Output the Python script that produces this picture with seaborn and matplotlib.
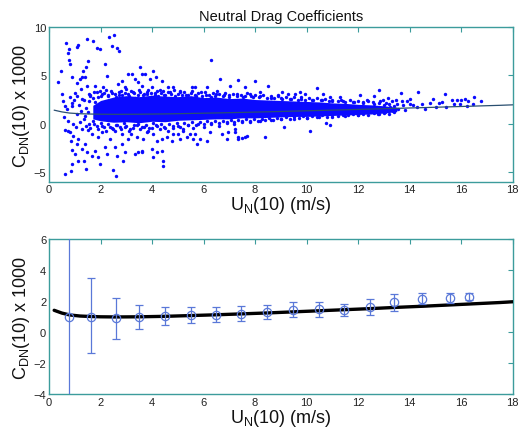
import matplotlib
matplotlib.use("Agg")
import matplotlib.pyplot as plt
import seaborn as sns
import pandas as pd

# ---------------- data ----------------
# top panel: scattered individual observations (U_N10, C_DN*1000)
upper_outliers = [
    (0.65, 8.31), (1.46, 8.79), (1.72, 8.52), (2.33, 9.0), (2.52, 9.14), (1.07, 7.97),
    (1.14, 8.1), (0.78, 7.69), (0.72, 7.28), (1.85, 7.83), (1.98, 7.76), (2.43, 8.03),
    (2.65, 7.83), (2.72, 7.55), (0.78, 6.59), (0.83, 6.17), (0.47, 5.41), (0.36, 4.28),
    (0.49, 3.07), (1.42, 5.83), (1.33, 5.48), (1.53, 6.52), (2.17, 6.17), (2.24, 4.97),
    (1.27, 4.79), (1.2, 4.62), (0.88, 4.79), (1.46, 3.93), (1.40, 4.79), (1.09, 4.17),
    (1.79, 3.93), (2.11, 3.76), (1.98, 3.41), (2.69, 4.1), (2.82, 4.45), (3.08, 5.14),
    (3.21, 5.14), (2.95, 3.76), (3.34, 4.62), (3.47, 4.28), (3.6, 5.14), (0.82, 2.72),
    (0.98, 2.45), (1.07, 2.9), (1.27, 2.55), (1.59, 2.9), (1.79, 2.21), (0.62, 1.86),
    (0.88, 1.86), (6.29, 6.59), (3.53, 5.9), (3.73, 5.14), (4.05, 5.48), (3.92, 4.62),
    (3.6, 3.93), (4.15, 4.79), (4.37, 4.45), (4.63, 3.76), (4.44, 3.41), (4.83, 3.76),
    (5.54, 3.83), (5.67, 3.83), (6.12, 3.76), (6.64, 4.62), (7.02, 3.93), (6.51, 3.41),
    (5.07, 3.24), (3.98, 3.76), (3.79, 3.07), (4.24, 2.9), (7.32, 4.52), (7.99, 4.38),
    (7.61, 3.76), (7.8, 3.07), (8.19, 3.24), (8.51, 3.93), (9.03, 3.24), (9.29, 3.07),
    (9.74, 3.24), (9.94, 3.07), (10.39, 3.69), (10.65, 3.07), (10.91, 2.72), (11.3, 2.79),
    (12.07, 3.0), (12.33, 2.45), (8.9, 2.97), (9.55, 3.07),
]
lower_outliers = [
    (0.62, -0.66), (0.72, -0.72), (0.82, -0.9), (0.94, -1.24), (0.85, -1.76), (1.14, -1.59),
    (1.07, -2.1), (0.88, -2.72), (1.27, -2.62), (1.4, -2.1), (1.46, -2.97), (1.01, -3.14),
    (1.14, -3.83), (0.88, -4.17), (0.62, -5.21), (0.85, -4.86), (1.37, -3.83), (1.42, -4.69),
    (1.66, -3.31), (1.79, -2.79), (1.91, -3.48), (1.98, -4.17), (2.17, -2.45), (2.24, -3.14),
    (2.5, -4.79), (2.59, -5.38), (2.37, -1.59), (2.56, -2.45), (2.63, -3.31), (2.82, -2.1),
    (2.95, -2.97), (2.89, -3.83), (3.08, -1.59), (3.34, -3.14), (3.47, -2.97), (3.6, -2.79),
    (3.18, -1.07), (1.66, -1.07), (1.91, -1.41), (2.05, -0.9), (1.53, -0.66), (2.56, -0.72),
    (2.82, -1.07), (3.4, -1.41), (3.79, -0.9), (3.66, -1.59), (3.6, -2.97), (4.05, -1.07),
    (4.18, -1.76), (4.37, -1.59), (3.98, -2.62), (4.18, -2.97), (4.4, -2.79), (4.05, -3.48),
    (4.44, -3.83), (4.41, -4.34), (4.57, -1.41), (4.83, -1.07), (4.76, -1.76), (5.1, -1.59),
    (5.02, -1.07), (5.34, -1.41), (5.47, -1.07), (5.67, -1.07), (5.6, -1.59), (5.73, -2.1),
    (5.86, -1.59), (6.12, -1.76), (6.25, -0.9), (6.7, -1.07), (6.9, -1.59), (6.96, -0.9),
    (7.35, -1.41), (7.22, -0.9), (5.19, -0.72), (7.32, -1.59), (7.48, -1.48), (7.61, -1.34),
    (7.7, -1.24), (8.38, -1.34), (9.13, -0.38), (10.13, -0.79), (10.77, 0.07), (10.91, -0.14),
    (7.22, -0.55),
]
tail_points = [
    (12.82, 3.52), (12.61, 2.9), (12.97, 2.45), (13.17, 2.66), (13.65, 3.21), (14.33, 3.28),
    (14.01, 2.55), (13.47, 2.45), (14.89, 2.59), (15.37, 3.03), (15.63, 2.45), (15.85, 2.48),
    (15.98, 2.45), (16.14, 2.52), (16.27, 2.31), (16.49, 2.72), (16.77, 2.38), (15.15, 2.14),
    (14.79, 2.1), (14.46, 2.03), (14.14, 1.9), (13.75, 1.93), (13.88, 2.31), (14.59, 1.55),
    (15.04, 1.76), (15.43, 1.69), (15.72, 2.03), (15.95, 2.03), (16.21, 1.86), (16.47, 2.03),
    (15.24, 2.28), (14.27, 1.69), (13.56, 1.52), (13.23, 1.76), (12.97, 1.34), (12.72, 1.41),
    (12.52, 1.28), (13.36, 1.28), (13.1, 2.1), (12.84, 2.31), (13.3, 2.31), (13.49, 2.03),
    (13.69, 2.38), (13.82, 1.41), (14.01, 2.03), (12.59, 2.21), (12.78, 1.0), (13.04, 1.17),
]
fringe_points = [
    (1.6, 3.0), (1.75, 3.3), (1.9, 2.8), (2.05, 3.1), (2.2, 3.5), (2.3, 2.9), (2.45, 3.2),
    (2.6, 2.8), (2.7, 3.3), (2.85, 3.0), (3.0, 3.6), (3.1, 2.9), (3.25, 3.3), (3.35, 2.7),
    (3.5, 3.5), (3.65, 3.0), (3.8, 3.3), (3.95, 2.8), (4.1, 3.2), (4.3, 3.5), (4.5, 3.0),
    (4.7, 3.3), (4.9, 2.9), (5.1, 3.4), (5.3, 3.0), (5.5, 3.2), (5.7, 2.9), (5.9, 3.3),
    (6.1, 3.0), (6.3, 2.8), (6.5, 3.1), (6.8, 3.0), (7.0, 2.8), (7.3, 3.1), (7.6, 2.9),
    (7.9, 2.8), (8.2, 2.9), (8.6, 2.7), (9.0, 2.7), (9.4, 2.6), (9.8, 2.6), (10.2, 2.5),
    (10.6, 2.4), (11.0, 2.35), (11.4, 2.3), (11.8, 2.2), (12.2, 2.2),
    (0.55, 2.3), (0.7, 1.5), (0.9, 2.1), (1.0, 3.2), (1.15, 1.9), (1.25, 3.6), (1.35, 2.4),
    (1.45, 1.6), (0.6, 0.7), (0.75, 0.3), (0.95, 0.0), (1.05, -0.3), (1.2, 0.2), (1.3, -0.5),
    (1.45, -0.2), (1.1, 1.0), (1.25, 1.3), (1.4, 0.8), (1.5, 1.2), (1.35, 0.5), (1.55, 2.3),
    (1.6, -0.4), (1.75, 0.0), (1.9, -0.6), (2.05, -0.2), (2.2, -0.8), (2.35, -0.3), (2.5, -0.5),
    (2.65, -0.1), (2.8, -0.6), (2.95, -0.3), (3.1, -0.8), (3.25, -0.4), (3.4, -0.1), (3.55, -0.6),
    (3.7, -0.3), (3.85, -0.8), (4.0, -0.4), (4.15, -0.1), (4.3, -0.6), (4.45, -0.3), (4.6, -0.8),
    (4.8, -0.4), (5.0, -0.2), (5.2, -0.5), (5.4, -0.1), (5.6, -0.4), (5.8, 0.0), (6.0, -0.3),
    (6.3, 0.1), (6.6, -0.2), (6.9, 0.2), (7.2, 0.0), (7.5, 0.3), (7.8, 0.2), (8.2, 0.3),
    (8.6, 0.4), (9.0, 0.45), (9.5, 0.5), (10.0, 0.55), (10.5, 0.65), (11.0, 0.7), (11.5, 0.8),
    (12.0, 0.85),
]
upper_edge_points = [
    (1.55, 3.1), (1.7, 2.7), (1.85, 3.3), (2.0, 2.9), (2.15, 3.2), (2.3, 3.0), (2.4, 3.4),
    (2.55, 3.1), (2.7, 2.95), (2.8, 3.4), (2.95, 3.15), (3.05, 3.05), (3.2, 3.4), (3.3, 3.2),
    (3.45, 3.0), (3.55, 3.3), (3.7, 3.1), (3.85, 3.45), (3.95, 3.15), (4.1, 3.0), (4.2, 3.35),
    (4.35, 3.15), (4.45, 3.0), (4.6, 3.25), (4.75, 3.05), (4.85, 3.45), (5.0, 3.1), (5.15, 2.95),
    (5.25, 3.25), (5.4, 3.0), (5.55, 3.35), (5.65, 2.95), (5.8, 3.15), (5.95, 2.9), (6.05, 3.25),
    (6.2, 3.0), (6.35, 3.2), (6.45, 2.9), (6.6, 3.05), (6.75, 2.85), (6.85, 3.2), (7.0, 2.95),
    (7.15, 3.1), (7.3, 2.85), (7.45, 3.0), (7.55, 2.8), (7.7, 3.15), (7.85, 2.85), (8.0, 2.95),
    (8.15, 2.75), (8.3, 3.0), (8.45, 2.7), (8.6, 2.9), (8.75, 2.7), (8.9, 2.85), (9.05, 2.6),
    (9.2, 2.8), (9.35, 2.55), (9.5, 2.75), (9.65, 2.5), (9.8, 2.8), (9.95, 2.5), (10.1, 2.65),
    (10.25, 2.45), (10.4, 2.7), (10.55, 2.4), (10.7, 2.55), (10.85, 2.35), (11.0, 2.5),
    (11.2, 2.3), (11.35, 2.45), (11.5, 2.25), (11.7, 2.4), (11.85, 2.2), (12.0, 2.35),
    (12.2, 2.15), (12.4, 2.3), (12.6, 2.05), (12.8, 2.1), (13.0, 1.95), (13.2, 2.0), (13.4, 1.85),
]
lower_edge_points = [
    (1.55, 0.0), (1.7, 0.3), (1.85, -0.2), (2.0, 0.1), (2.15, -0.3), (2.3, 0.0), (2.45, -0.4),
    (2.6, -0.1), (2.75, -0.35), (2.9, 0.05), (3.0, -0.25), (3.15, -0.5), (3.3, -0.15), (3.45, 0.0),
    (3.6, -0.35), (3.75, -0.1), (3.9, -0.45), (4.05, 0.05), (4.2, -0.25), (4.35, 0.0), (4.5, -0.4),
    (4.65, -0.05), (4.8, -0.2), (4.95, 0.1), (5.1, -0.3), (5.25, 0.05), (5.4, -0.15), (5.55, 0.15),
    (5.7, -0.1), (5.85, 0.2), (6.0, -0.05), (6.15, 0.25), (6.3, 0.0), (6.45, 0.3), (6.6, 0.05),
    (6.75, 0.3), (6.9, 0.1), (7.05, 0.35), (7.2, 0.15), (7.35, 0.4), (7.5, 0.2), (7.65, 0.45),
    (7.8, 0.25), (7.95, 0.5), (8.1, 0.3), (8.25, 0.5), (8.4, 0.35), (8.55, 0.55), (8.7, 0.4),
    (8.85, 0.6), (9.0, 0.45), (9.2, 0.65), (9.35, 0.5), (9.5, 0.7), (9.7, 0.55), (9.85, 0.75),
    (10.0, 0.6), (10.2, 0.8), (10.4, 0.65), (10.6, 0.85), (10.8, 0.7), (11.0, 0.9), (11.2, 0.75),
    (11.4, 0.95), (11.6, 0.85), (11.8, 1.0), (12.0, 0.9), (12.2, 1.05), (12.4, 0.95), (12.6, 1.1),
    (12.8, 1.0), (13.0, 1.15), (13.2, 1.05), (13.4, 1.2),
]

# top panel: envelope of the saturated (solid) core of the point cloud
core_x = [1.7, 2.0, 2.5, 3.0, 3.5, 4.0, 4.5, 5.0, 5.5, 6.0, 6.5, 7.0, 7.5, 8.0, 8.5,
          9.0, 9.5, 10.0, 10.5, 11.0, 11.5, 12.0, 12.5, 13.0, 13.5]
core_hi = [1.9, 2.4, 2.75, 2.9, 2.8, 2.95, 2.85, 2.8, 2.9, 2.7, 2.75, 2.6, 2.65, 2.5,
           2.45, 2.4, 2.35, 2.3, 2.25, 2.15, 2.1, 2.0, 1.95, 1.85, 1.7]
core_lo = [0.5, 0.3, 0.15, 0.2, 0.1, 0.25, 0.2, 0.35, 0.4, 0.45, 0.5, 0.5, 0.6, 0.6,
           0.65, 0.7, 0.75, 0.75, 0.8, 0.85, 0.9, 0.95, 1.0, 1.1, 1.25]

# parameterised drag-coefficient curve
fit_x = [0.2, 0.5, 0.8, 1.2, 1.6, 2.0, 2.6, 3.5, 4.5, 5.5, 6.5, 7.5, 8.5, 9.5, 10.5, 11.5,
         12.5, 13.5, 14.5, 15.5, 16.5, 17.5, 18.0]
fit_y = [1.40, 1.22, 1.10, 1.03, 1.00, 0.98, 0.97, 0.98, 1.01, 1.06, 1.11, 1.17, 1.23, 1.30,
         1.37, 1.44, 1.51, 1.59, 1.66, 1.74, 1.82, 1.90, 1.95]
fit2_y = [1.36, 1.19, 1.07, 1.00, 0.97, 0.95, 0.94, 0.95, 0.98, 1.03, 1.08, 1.14, 1.20, 1.27,
          1.34, 1.41, 1.48, 1.56, 1.63, 1.71, 1.79, 1.87, 1.92]

# bottom panel: bin means with error bars
bin_u = [0.79, 1.62, 2.6, 3.51, 4.49, 5.5, 6.47, 7.44, 8.45, 9.46, 10.48, 11.46, 12.45,
         13.39, 14.48, 15.55, 16.32]
bin_cd = [0.99, 0.99, 0.88, 0.97, 1.01, 1.08, 1.12, 1.18, 1.29, 1.44, 1.48, 1.44, 1.63,
          1.91, 2.13, 2.19, 2.28]
bin_lo = [-9.0, -1.35, -0.43, 0.19, 0.43, 0.56, 0.62, 0.71, 0.84, 0.95, 0.95, 1.03, 1.08,
          1.33, 1.80, 1.87, 2.04]
bin_hi = [11.0, 3.48, 2.19, 1.74, 1.61, 1.59, 1.63, 1.68, 1.74, 1.94, 1.94, 1.81, 2.13,
          2.47, 2.49, 2.49, 2.52]

x_ticks = [0, 2, 4, 6, 8, 10, 12, 14, 16, 18]
top_yticks = [-5, 0, 5, 10]
bot_yticks = [-4, -2, 0, 2, 4, 6]

# ---------------- style ----------------
sns.set_theme(style="white")
plt.rcParams["font.family"] = ["Liberation Sans", "DejaVu Sans"]
plt.rcParams["mathtext.default"] = "regular"

SPINE = "#3c9c9c"
BLUE = "#0a0aff"
EBAR = "#5a78d8"

fig = plt.figure(figsize=(5.23, 4.35), dpi=100)
ax1 = fig.add_axes([0.0937, 0.580, 0.8866, 0.3556])
ax2 = fig.add_axes([0.0937, 0.092, 0.8866, 0.3563])

pts = (upper_outliers + lower_outliers + tail_points + fringe_points
       + upper_edge_points + lower_edge_points)
df_pts = pd.DataFrame(pts, columns=["u", "cd"])

# top panel
ax1.fill_between(core_x, core_lo, core_hi, color=BLUE, lw=0, zorder=2)
sns.scatterplot(data=df_pts, x="u", y="cd", ax=ax1, color=BLUE, s=6, linewidth=0,
                edgecolor=None, zorder=3, legend=False)
df_fit = pd.DataFrame({"u": fit_x, "cd": fit_y, "cd2": fit2_y})
sns.lineplot(data=df_fit, x="u", y="cd", ax=ax1, color="#2a4f70", lw=0.9, zorder=4,
             estimator=None, sort=False)

ax1.set_xlim(0, 18)
ax1.set_ylim(-6, 10)
ax1.set_yticks(top_yticks)
ax1.set_title("Neutral Drag Coefficients", fontsize=10.5, pad=5, color="#111111")

# bottom panel
sns.lineplot(data=df_fit, x="u", y="cd2", ax=ax2, color="#e03030", lw=0.8, zorder=2,
             estimator=None, sort=False)
sns.lineplot(data=df_fit, x="u", y="cd", ax=ax2, color="black", lw=2.4, zorder=3,
             estimator=None, sort=False)
yerr_lo = [c - l for c, l in zip(bin_cd, bin_lo)]
yerr_hi = [h - c for c, h in zip(bin_cd, bin_hi)]
ax2.errorbar(bin_u, bin_cd, yerr=[yerr_lo, yerr_hi], fmt="o", mfc="none", mec=EBAR,
             ms=6, mew=0.9, ecolor=EBAR, elinewidth=0.9, capsize=3.2, capthick=0.9,
             zorder=4)
ax2.set_xlim(0, 18)
ax2.set_ylim(-4, 6)
ax2.set_yticks(bot_yticks)

for ax in (ax1, ax2):
    ax.set_xticks(x_ticks)
    ax.set_facecolor("white")
    for sp in ax.spines.values():
        sp.set_visible(True)
        sp.set_color(SPINE)
        sp.set_linewidth(1.0)
    ax.tick_params(direction="in", length=3.5, width=0.8, color=SPINE, top=True, right=True,
                   labelsize=8, labelcolor="#222222", pad=2)
    ax.set_xlabel("U$_N$(10) (m/s)", fontsize=13, labelpad=0, color="#111111")
    ax.set_ylabel("C$_{DN}$(10) x 1000", fontsize=13, labelpad=1, color="#111111")
    ax.grid(False)

fig.savefig("out.png", dpi=100, facecolor="white")
